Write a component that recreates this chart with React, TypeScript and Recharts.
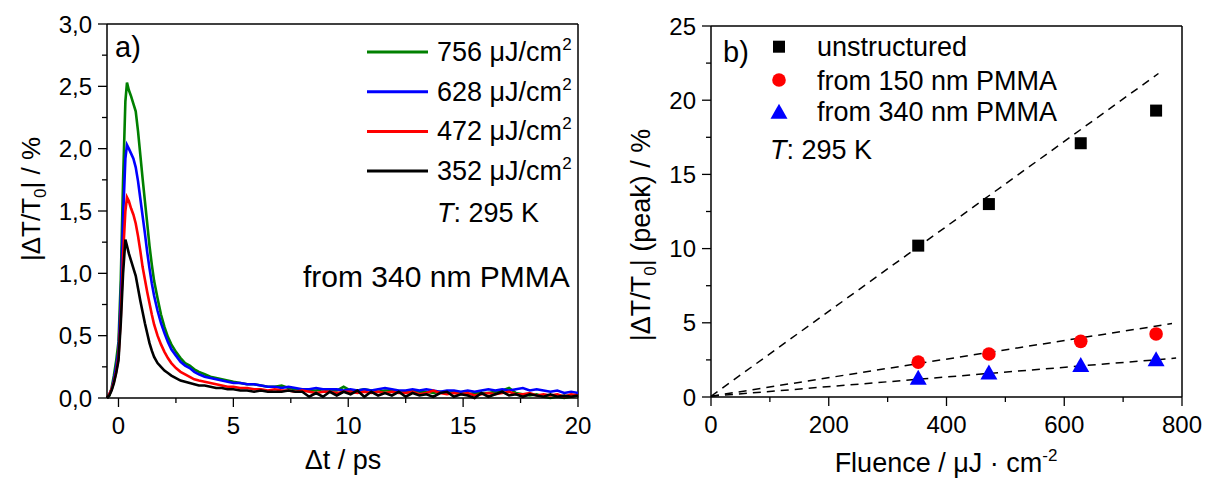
import {
  LineChart,
  Line,
  XAxis,
  YAxis,
  ReferenceLine,
  Legend,
  ComposedChart,
  Scatter,
} from "recharts";

const FONT = "'Liberation Sans', Arial, sans-serif";

// (a) pump-probe traces, delay in ps
const delayPs = [
  -0.5, -0.4, -0.3, -0.2, -0.1, 0, 0.1, 0.2, 0.3, 0.37,
  0.45, 0.55, 0.65, 0.75, 0.85, 0.95, 1.05, 1.15, 1.25, 1.35,
  1.45, 1.55, 1.7, 1.85, 2.0, 2.15, 2.3, 2.5, 2.7, 2.9,
  3.1, 3.3, 3.5, 3.75, 4.0, 4.25, 4.5, 4.75, 5.0, 5.3,
  5.6, 5.9, 6.2, 6.5, 6.8, 7.1, 7.4, 7.7, 8.0, 8.3,
  8.6, 8.9, 9.2, 9.5, 9.8, 10.1, 10.4, 10.7, 11.0, 11.3,
  11.6, 11.9, 12.2, 12.5, 12.8, 13.1, 13.4, 13.7, 14.0, 14.3,
  14.6, 14.9, 15.2, 15.5, 15.8, 16.1, 16.4, 16.7, 17.0, 17.3,
  17.6, 17.9, 18.2, 18.5, 18.8, 19.1, 19.4, 19.7, 20.0,
];

const trace756 = [
  0.0, 0.02, 0.08, 0.18, 0.3, 0.45, 0.95, 1.75, 2.38, 2.53,
  2.47, 2.42, 2.36, 2.3, 2.14, 1.95, 1.76, 1.58, 1.4, 1.22,
  1.07, 0.94, 0.8, 0.67, 0.57, 0.49, 0.43, 0.37, 0.32, 0.28,
  0.26, 0.23, 0.21, 0.19, 0.17, 0.16, 0.15, 0.14, 0.13, 0.12,
  0.11, 0.11, 0.1, 0.09, 0.09, 0.1, 0.08, 0.07, 0.07, 0.06,
  0.06, 0.07, 0.06, 0.06, 0.09, 0.06, 0.06, 0.07, 0.06, 0.05,
  0.06, 0.06, 0.05, 0.05, 0.06, 0.05, 0.05, 0.04, 0.05, 0.04,
  0.05, 0.04, 0.03, 0.04, 0.04, 0.04, 0.05, 0.06, 0.08, 0.04,
  0.03, 0.02, 0.03, 0.01, 0.0, 0.01, 0.0, 0.01, 0.02,
];

const trace628 = [
  0.0, 0.03, 0.07, 0.15, 0.25, 0.38, 0.8, 1.45, 1.92, 2.03,
  2.0, 1.96, 1.92, 1.85, 1.74, 1.6, 1.46, 1.32, 1.17, 1.04,
  0.92, 0.82, 0.7, 0.6, 0.52, 0.45, 0.39, 0.34, 0.29, 0.26,
  0.24, 0.21, 0.19, 0.17, 0.16, 0.15, 0.14, 0.13, 0.12, 0.12,
  0.11, 0.11, 0.1, 0.09, 0.09, 0.08, 0.09, 0.08, 0.07, 0.07,
  0.08, 0.07, 0.07, 0.07, 0.06, 0.07, 0.06, 0.07, 0.06, 0.07,
  0.08, 0.07, 0.06, 0.06, 0.07, 0.06, 0.07, 0.06, 0.05, 0.06,
  0.06, 0.05, 0.06, 0.05, 0.06, 0.07, 0.06, 0.07, 0.06, 0.07,
  0.08, 0.06, 0.07, 0.06, 0.05, 0.06, 0.04, 0.05, 0.04,
];

const trace472 = [
  0.0, 0.03, 0.07, 0.13, 0.21, 0.33, 0.65, 1.15, 1.5, 1.61,
  1.58, 1.52, 1.47, 1.4, 1.3, 1.18, 1.05, 0.95, 0.85, 0.76,
  0.67, 0.59, 0.5, 0.43, 0.37, 0.32, 0.28, 0.24, 0.21, 0.19,
  0.17, 0.15, 0.14, 0.13, 0.12, 0.11, 0.1, 0.09, 0.09, 0.08,
  0.08, 0.07, 0.07, 0.06, 0.07, 0.06, 0.06, 0.05, 0.06, 0.05,
  0.04, 0.05, 0.05, 0.04, 0.05, 0.05, 0.04, 0.05, 0.04, 0.05,
  0.04, 0.05, 0.04, 0.04, 0.05, 0.03, 0.04, 0.06, 0.04, 0.03,
  0.04, 0.03, 0.04, 0.02, 0.03, 0.04, 0.03, 0.04, 0.05, 0.03,
  0.03, 0.04, 0.02, 0.03, 0.02, 0.03, 0.01, 0.03, 0.02,
];

const trace352 = [
  0.0, 0.02, 0.06, 0.12, 0.2, 0.3, 0.6, 1.0, 1.27, 1.22,
  1.16, 1.1, 1.04, 0.98, 0.88, 0.78, 0.69, 0.6, 0.52, 0.44,
  0.38, 0.33, 0.28, 0.25, 0.22, 0.2, 0.18, 0.16, 0.14, 0.13,
  0.12, 0.11, 0.1, 0.1, 0.09, 0.08, 0.08, 0.07, 0.07, 0.06,
  0.06, 0.05, 0.06, 0.05, 0.05, 0.05, 0.06, 0.05, 0.05, 0.01,
  0.04, 0.01, 0.05, 0.02, 0.05, 0.03, 0.06, 0.01, 0.05, 0.02,
  0.04, 0.02, 0.05, 0.01, 0.04, 0.02, 0.03, 0.01, 0.04, 0.05,
  0.01, 0.03, 0.02, 0.0, 0.04, 0.01, 0.03, 0.05, 0.02, 0.03,
  0.01, 0.03, 0.02, 0.01, 0.03, 0.01, 0.02, 0.01, 0.02,
];

const traceFluences = [756, 628, 472, 352];
const traceColors = ["#008000", "#0000ff", "#ff0000", "#000000"];
const traceKeys = ["f756", "f628", "f472", "f352"];

const leftXMajor = [0, 5, 10, 15, 20];
const leftXTicks = [0, 2.5, 5, 7.5, 10, 12.5, 15, 17.5, 20];
const leftYMajor = [0, 0.5, 1, 1.5, 2, 2.5, 3];
const leftYTicks = [0, 0.25, 0.5, 0.75, 1, 1.25, 1.5, 1.75, 2, 2.25, 2.5, 2.75, 3];

// (b) peak signal vs fluence
const fluence = [352, 472, 628, 756];
const peakUnstructured = [10.2, 13.0, 17.1, 19.3];
const peak150 = [2.35, 2.9, 3.75, 4.25];
const peak340 = [1.3, 1.65, 2.15, 2.55];
const peakNames = ["unstructured", "from 150 nm PMMA", "from 340 nm PMMA"];

const fitUnstructuredX = [0, 760];
const fitUnstructuredY = [0.05, 21.8];
const fit150X = [0, 783];
const fit150Y = [0.05, 4.95];
const fit340X = [0, 790];
const fit340Y = [0.05, 2.62];

const rightXMajor = [0, 200, 400, 600, 800];
const rightXTicks = [0, 100, 200, 300, 400, 500, 600, 700, 800];
const rightYMajor = [0, 5, 10, 15, 20, 25];
const rightYTicks = [0, 2.5, 5, 7.5, 10, 12.5, 15, 17.5, 20, 22.5, 25];

const traceData = delayPs.map((t, i) => ({
  t,
  f756: trace756[i],
  f628: trace628[i],
  f472: trace472[i],
  f352: trace352[i],
}));

const toXY = (xs: number[], ys: number[]) => xs.map((x, i) => ({ x, y: ys[i] }));

const commaFmt = (v: number) => v.toFixed(1).replace(".", ",");
const plainFmt = (v: number) => String(v);

function renderTick(side: "bottom" | "left", majors: number[], fmt: (v: number) => string) {
  return (p: any) => {
    const v = p.payload.value;
    const isMajor = majors.some((m) => Math.abs(m - v) < 1e-9);
    const len = isMajor ? 9 : 5;
    if (side === "bottom") {
      return (
        <g>
          <line x1={p.x} y1={p.y} x2={p.x} y2={p.y + len} stroke="#000" strokeWidth={1.3} />
          {isMajor && (
            <text x={p.x} y={p.y + 36} textAnchor="middle" fontSize={24} fontFamily={FONT} fill="#000">
              {fmt(v)}
            </text>
          )}
        </g>
      );
    }
    return (
      <g>
        <line x1={p.x - len} y1={p.y} x2={p.x} y2={p.y} stroke="#000" strokeWidth={1.3} />
        {isMajor && (
          <text x={p.x - 15} y={p.y} dy="0.36em" textAnchor="end" fontSize={24} fontFamily={FONT} fill="#000">
            {fmt(v)}
          </text>
        )}
      </g>
    );
  };
}

const axisLine = { stroke: "#000", strokeWidth: 1.5 };

const squareShape = (p: any) => <rect x={p.cx - 6} y={p.cy - 6} width={12} height={12} fill={p.fill} />;
const circleShape = (p: any) => <circle cx={p.cx} cy={p.cy} r={6.8} fill={p.fill} />;
const triangleShape = (p: any) => (
  <polygon points={`${p.cx},${p.cy - 8} ${p.cx + 8.5},${p.cy + 7} ${p.cx - 8.5},${p.cy + 7}`} fill={p.fill} />
);

function TraceLegend({ payload }: any) {
  const items = traceFluences
    .map((f) => (payload || []).find((it: any) => it.value === String(f)))
    .filter(Boolean);
  return (
    <svg width={240} height={205}>
      {items.map((item: any, i: number) => (
        <g key={item.value}>
          <line x1={7} y1={22 + i * 39.7} x2={68} y2={22 + i * 39.7} stroke={item.color} strokeWidth={3} />
          <text x={77} y={31 + i * 39.7} fontSize={27} fontFamily={FONT} fill="#000">
            {item.value} μJ/cm
            <tspan dy={-11} fontSize={17}>2</tspan>
          </text>
        </g>
      ))}
      <text x={77} y={192} fontSize={27} fontFamily={FONT} fill="#000">
        <tspan fontStyle="italic">T</tspan>: 295 K
      </text>
    </svg>
  );
}

function PeakLegend({ payload }: any) {
  const items = peakNames
    .map((n) => (payload || []).find((it: any) => it.value === n))
    .filter(Boolean);
  const rowY = [21.7, 55, 86.7];
  const icon = (type: string, color: string, cy: number) => {
    if (type === "square") return squareShape({ cx: 19, cy, fill: color });
    if (type === "circle") return circleShape({ cx: 19, cy, fill: color });
    return triangleShape({ cx: 19, cy, fill: color });
  };
  return (
    <svg width={310} height={145}>
      {items.map((item: any, i: number) => (
        <g key={item.value}>
          {icon(item.type, item.color, rowY[i])}
          <text x={57} y={rowY[i] + 9.5} fontSize={27} fontFamily={FONT} fill="#000">
            {item.value}
          </text>
        </g>
      ))}
      <text x={10} y={134} fontSize={27} fontFamily={FONT} fill="#000">
        <tspan fontStyle="italic">T</tspan>: 295 K
      </text>
    </svg>
  );
}

export default function App() {
  return (
    <div style={{ position: "absolute", left: 0, top: 0, width: 1206, height: 479, background: "#fff" }}>
      <div style={{ position: "absolute", left: 0, top: 0 }}>
        <LineChart width={600} height={479} data={traceData} margin={{ top: 24, right: 22, bottom: 0, left: 0 }}>
          <XAxis
            type="number"
            dataKey="t"
            domain={[-0.5, 20]}
            ticks={leftXTicks}
            interval={0}
            tickSize={0}
            tickMargin={0}
            tickLine={false}
            axisLine={axisLine}
            height={81}
            tick={renderTick("bottom", leftXMajor, plainFmt)}
          />
          <YAxis
            type="number"
            domain={[0, 3]}
            ticks={leftYTicks}
            interval={0}
            tickSize={0}
            tickMargin={0}
            tickLine={false}
            axisLine={axisLine}
            width={107}
            tick={renderTick("left", leftYMajor, commaFmt)}
          />
          <ReferenceLine y={3} stroke="#000" strokeWidth={1.5} />
          <ReferenceLine x={20} stroke="#000" strokeWidth={1.5} />
          {traceKeys.map((k, i) => (
            <Line
              key={k}
              type="linear"
              dataKey={k}
              name={String(traceFluences[i])}
              stroke={traceColors[i]}
              strokeWidth={2.6}
              dot={false}
              isAnimationActive={false}
            />
          ))}
          <Legend
            layout="horizontal"
            verticalAlign="middle"
            align="center"
            wrapperStyle={{ left: 360, top: 30, width: 240, height: 205 }}
            content={TraceLegend}
          />
          <text x={115} y={57} fontSize={29} fontFamily={FONT} fill="#000">a)</text>
          <text x={303} y={287} fontSize={30} fontFamily={FONT} fill="#000">from 340 nm PMMA</text>
          <text x={343} y={469} textAnchor="middle" fontSize={27} fontFamily={FONT} fill="#000">Δt / ps</text>
          <text
            x={40}
            y={199}
            textAnchor="middle"
            transform="rotate(-90 40 199)"
            fontSize={26}
            fontFamily={FONT}
            fill="#000"
          >
            |ΔT/T<tspan dy={6} fontSize={17}>0</tspan>
            <tspan dy={-6}>| / %</tspan>
          </text>
        </LineChart>
      </div>

      <div style={{ position: "absolute", left: 600, top: 0 }}>
        <ComposedChart width={606} height={479} margin={{ top: 26, right: 24, bottom: 0, left: 0 }}>
          <XAxis
            type="number"
            dataKey="x"
            domain={[0, 800]}
            ticks={rightXTicks}
            interval={0}
            tickSize={0}
            tickMargin={0}
            tickLine={false}
            axisLine={axisLine}
            height={82}
            tick={renderTick("bottom", rightXMajor, plainFmt)}
          />
          <YAxis
            type="number"
            dataKey="y"
            domain={[0, 25]}
            ticks={rightYTicks}
            interval={0}
            tickSize={0}
            tickMargin={0}
            tickLine={false}
            axisLine={axisLine}
            width={111}
            tick={renderTick("left", rightYMajor, plainFmt)}
          />
          <ReferenceLine y={25} stroke="#000" strokeWidth={1.5} />
          <ReferenceLine x={800} stroke="#000" strokeWidth={1.5} />
          <Line data={toXY(fitUnstructuredX, fitUnstructuredY)} dataKey="y" stroke="#000" strokeWidth={1.5} strokeDasharray="8 6" dot={false} legendType="none" isAnimationActive={false} />
          <Line data={toXY(fit150X, fit150Y)} dataKey="y" stroke="#000" strokeWidth={1.5} strokeDasharray="8 6" dot={false} legendType="none" isAnimationActive={false} />
          <Line data={toXY(fit340X, fit340Y)} dataKey="y" stroke="#000" strokeWidth={1.5} strokeDasharray="8 6" dot={false} legendType="none" isAnimationActive={false} />
          <Scatter name={peakNames[0]} data={toXY(fluence, peakUnstructured)} dataKey="y" fill="#000" shape={squareShape} legendType="square" isAnimationActive={false} />
          <Scatter name={peakNames[1]} data={toXY(fluence, peak150)} dataKey="y" fill="#ff0000" shape={circleShape} legendType="circle" isAnimationActive={false} />
          <Scatter name={peakNames[2]} data={toXY(fluence, peak340)} dataKey="y" fill="#0000ff" shape={triangleShape} legendType="triangle" isAnimationActive={false} />
          <Legend
            layout="horizontal"
            verticalAlign="middle"
            align="center"
            wrapperStyle={{ left: 160, top: 25, width: 310, height: 145 }}
            content={PeakLegend}
          />
          <text x={123} y={62} fontSize={29} fontFamily={FONT} fill="#000">b)</text>
          <text x={346} y={472} textAnchor="middle" fontSize={27} fontFamily={FONT} fill="#000">
            Fluence / μJ · cm<tspan dy={-11} fontSize={17}>-2</tspan>
          </text>
          <text
            x={50}
            y={235}
            textAnchor="middle"
            transform="rotate(-90 50 235)"
            fontSize={27}
            fontFamily={FONT}
            fill="#000"
          >
            |ΔT/T<tspan dy={6} fontSize={17}>0</tspan>
            <tspan dy={-6}>| (peak) / %</tspan>
          </text>
        </ComposedChart>
      </div>
    </div>
  );
}
